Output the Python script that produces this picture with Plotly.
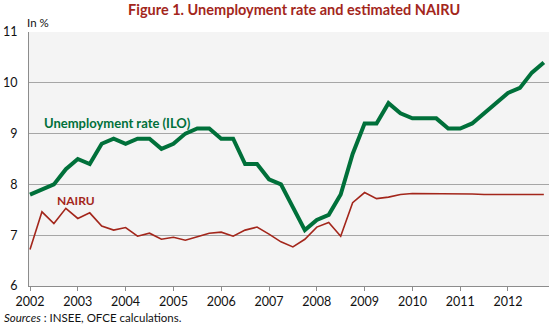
import plotly.graph_objects as go

# Quarterly observations, 2002Q1 - 2012Q4
years = list(range(2002, 2013))
quarters = [y + q / 4 for y in years for q in range(4)]

unemployment = [7.8, 7.9, 8.0, 8.3, 8.5, 8.4, 8.8, 8.9, 8.8, 8.9, 8.9, 8.7,
                8.8, 9.0, 9.1, 9.1, 8.9, 8.9, 8.4, 8.4, 8.1, 8.0, 7.55, 7.1,
                7.3, 7.4, 7.8, 8.6, 9.2, 9.2, 9.6, 9.4, 9.3, 9.3, 9.3, 9.1,
                9.1, 9.2, 9.4, 9.6, 9.8, 9.9, 10.2, 10.4]

nairu = [6.72, 7.46, 7.23, 7.53, 7.33, 7.44, 7.18, 7.10, 7.15, 6.98, 7.04, 6.92,
         6.96, 6.90, 6.97, 7.04, 7.06, 6.98, 7.10, 7.16, 7.02, 6.87, 6.77, 6.92,
         7.16, 7.25, 6.98, 7.64, 7.84, 7.72, 7.75, 7.80, 7.82, 7.82, 7.81, 7.81,
         7.81, 7.81, 7.80, 7.80, 7.80, 7.80, 7.80, 7.80]

y_ticks = [6, 7, 8, 9, 10, 11]

GREEN = "#00703a"
RED = "#a3261b"
FONT = "Lato"

fig = go.Figure()
fig.add_trace(go.Scatter(x=quarters, y=nairu, mode="lines",
                         line=dict(color=RED, width=1.6), hoverinfo="skip"))
fig.add_trace(go.Scatter(x=quarters, y=unemployment, mode="lines",
                         line=dict(color=GREEN, width=4), hoverinfo="skip"))

fig.update_layout(
    width=550, height=325,
    margin=dict(l=29, r=1, t=32, b=39),
    paper_bgcolor="white",
    plot_bgcolor="#f4f4f4",
    showlegend=False,
    font=dict(family=FONT, size=12, color="#111111"),
    xaxis=dict(
        range=[2001.979, 2012.858],
        tickvals=years, ticktext=[str(y) for y in years],
        showgrid=False, zeroline=False,
        showline=True, linecolor="#8c8c8c", linewidth=1,
        ticks="outside", ticklen=4, tickcolor="#8c8c8c",
        tickfont=dict(size=12.5, family=FONT),
    ),
    yaxis=dict(
        range=[6, 11],
        tickvals=y_ticks,
        showgrid=True, gridcolor="#a6a6a6", gridwidth=1,
        zeroline=False,
        showline=True, linecolor="#8c8c8c", linewidth=1,
        ticks="", ticklabelstandoff=8,
        tickfont=dict(size=12.5, family=FONT),
    ),
)

fig.add_annotation(text="<b>Figure 1. Unemployment rate and estimated NAIRU</b>",
                   xref="paper", yref="paper", x=0.51, y=1.0, yshift=23,
                   xanchor="center", yanchor="middle", showarrow=False,
                   font=dict(size=14.5, color=RED, family=FONT))
fig.add_annotation(text="In %", xref="paper", yref="paper", x=0.0, y=1.0,
                   xshift=-4, yshift=10, xanchor="left", yanchor="middle",
                   showarrow=False, font=dict(size=11.5, family=FONT))
fig.add_annotation(text="<i>Sources</i> : INSEE, OFCE calculations.",
                   xref="paper", yref="paper", x=0.0, y=0.0,
                   xshift=-27, yshift=-31, xanchor="left", yanchor="middle",
                   showarrow=False, font=dict(size=11.5, family=FONT))
fig.add_annotation(text="<b>Unemployment rate (ILO)</b>", x=2002.26, y=9.2,
                   xanchor="left", yanchor="middle", showarrow=False,
                   font=dict(size=13, color=GREEN, family=FONT))
fig.add_annotation(text="<b>NAIRU</b>", x=2002.53, y=7.68,
                   xanchor="left", yanchor="middle", showarrow=False,
                   font=dict(size=12, color=RED, family=FONT))

fig.write_html("out.html")
